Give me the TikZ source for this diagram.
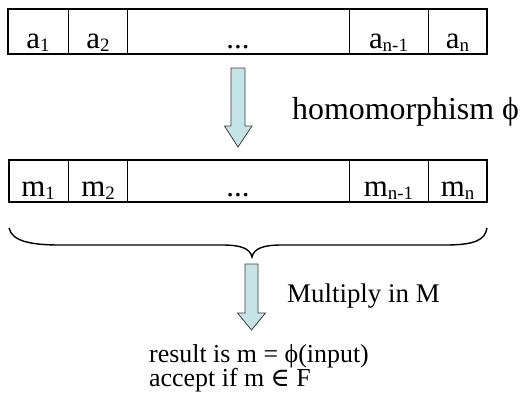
\documentclass[tikz,border=0pt]{standalone}
\usepackage{fontspec}
\setmainfont{Liberation Serif}
\newfontfamily\symfont{DejaVu Serif}
\definecolor{arrowfill}{RGB}{198,228,232}
\definecolor{arrowline}{RGB}{60,60,60}
\tikzset{
  x=1bp,y=-1bp,
  outerbox/.style={line width=2bp},
  divider/.style={line width=0.8bp},
  blockarrow/.style={fill=arrowfill,draw=arrowline,line width=0.8bp,line join=miter},
  celltext/.style={anchor=base,inner sep=0pt,font=\fontsize{31}{31}\selectfont},
  bigtext/.style={anchor=base west,inner sep=0pt,font=\fontsize{32}{32}\selectfont},
  midtext/.style={anchor=base west,inner sep=0pt,font=\fontsize{27}{27}\selectfont},
  restext/.style={anchor=base west,inner sep=0pt,font=\fontsize{26}{26}\selectfont},
  bracepath/.style={line width=1.4bp}
}
\newcommand{\subs}[1]{\raisebox{-3bp}{\fontsize{19}{19}\selectfont #1}}
\begin{document}
\begin{tikzpicture}
\useasboundingbox (0,0) rectangle (520,398);
% row 1
\draw[divider] (68.5,9) -- (68.5,54) (127.5,9) -- (127.5,54) (349,9) -- (349,54) (428,9) -- (428,54);
\draw[outerbox] (8,9) rectangle (487,54);
\node[celltext] (a1) at (38,48) {a\subs{1}};
\node[celltext] (a2) at (98,48) {a\subs{2}};
\node[celltext] (ad) at (238,48) {...};
\node[celltext] (an1) at (388.5,48) {a\subs{n-1}};
\node[celltext] (an) at (457.5,48) {a\subs{n}};
% arrow 1
\draw[blockarrow] (231,68) -- (245,68) -- (245,126) -- (252,126) -- (238,147) -- (224.5,126) -- (231,126) -- cycle;
\node[bigtext] (hom) at (292,119) {homomorphism ϕ};
% row 2
\draw[divider] (68.5,160) -- (68.5,202) (127.5,160) -- (127.5,202) (349,160) -- (349,202) (428,160) -- (428,202);
\draw[outerbox] (9,160) rectangle (487,202);
\node[celltext] (m1) at (38,196) {m\subs{1}};
\node[celltext] (m2) at (98,196) {m\subs{2}};
\node[celltext] (md) at (238,196) {...};
\node[celltext] (mn1) at (388.5,196) {m\subs{n-1}};
\node[celltext] (mn) at (457.5,196) {m\subs{n}};
% brace
\draw[bracepath] (9,228) .. controls (12,241) and (30,245) .. (60,245) -- (222,245)
  .. controls (240,245) and (250,248) .. (252,257)
  .. controls (254,248) and (264,245) .. (282,245) -- (445,245)
  .. controls (475,245) and (485,240) .. (487,228);
% arrow 2
\draw[blockarrow] (245,264) -- (258,264) -- (258,313) -- (265.5,313) -- (251.5,330) -- (237.5,313) -- (245,313) -- cycle;
\node[midtext] (mul) at (287,302) {Multiply in M};
\node[restext] (res) at (149,362) {result is m = ϕ(input)};
\node[restext] (acc) at (149,386) {accept if m {\symfont ∈} F};
\end{tikzpicture}
\end{document}
